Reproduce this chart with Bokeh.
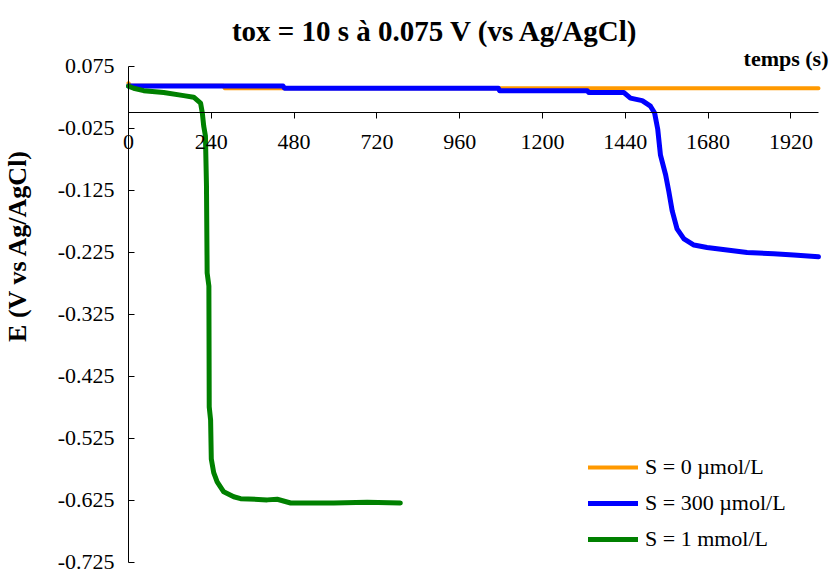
import math
from bokeh.plotting import figure
from bokeh.models import Range1d, LinearAxis, FixedTicker, Label
from bokeh.embed import file_html
from bokeh.resources import INLINE

# ---- data ----
t_orange = [0, 5, 275, 279, 2000]
e_orange = [0.048, 0.044, 0.044, 0.040, 0.040]

t_blue = [0, 448, 452, 1072, 1076, 1330, 1334, 1436, 1455, 1489, 1513, 1525, 1534,
          1542, 1557, 1566, 1576, 1590, 1610, 1639, 1677, 1735, 1793, 1870, 1928, 2000]
e_blue = [0.0434, 0.0434, 0.040, 0.040, 0.036, 0.036, 0.033, 0.033, 0.024, 0.020, 0.011,
          0.000, -0.026, -0.068, -0.100, -0.126, -0.158, -0.187, -0.203, -0.213, -0.217,
          -0.221, -0.225, -0.227, -0.229, -0.232]

t_green = [0, 15, 44, 102, 160, 189, 209, 214, 218, 223, 226, 228, 233, 234, 238, 240,
           247, 257, 276, 305, 325, 402, 431, 470, 595, 692, 788]
e_green = [0.0434, 0.040, 0.036, 0.033, 0.028, 0.0255, 0.016, 0.000, -0.021, -0.037,
           -0.116, -0.258, -0.279, -0.474, -0.495, -0.558, -0.580, -0.595, -0.611, -0.619,
           -0.622, -0.624, -0.623, -0.629, -0.629, -0.628, -0.629]

series_labels = ["S = 0 \u00b5mol/L", "S = 300 \u00b5mol/L", "S = 1 mmol/L"]
series_colors = ["#FF9900", "#0000FF", "#008000"]

x_ticks = [0, 240, 480, 720, 960, 1200, 1440, 1680, 1920]
y_ticks = [0.075, -0.025, -0.125, -0.225, -0.325, -0.425, -0.525, -0.625, -0.725]
y_tick_labels = ["0.075", "-0.025", "-0.125", "-0.225", "-0.325", "-0.425", "-0.525",
                 "-0.625", "-0.725"]

title_text = "tox = 10 s \u00e0 0.075 V (vs Ag/AgCl)"
x_label_text = "temps (s)"
y_label_text = "E (V vs Ag/AgCl)"

FONT = "Liberation Serif"

p = figure(width=835, height=578, output_backend="svg", toolbar_location=None,
           x_range=Range1d(-371.0, 2049.3), y_range=Range1d(-0.75081, 0.18145),
           x_axis_location=None, y_axis_location=None, title=None)
p.min_border = 0
p.outline_line_color = None
p.xgrid.visible = False
p.ygrid.visible = False
p.background_fill_color = "white"
p.border_fill_color = "white"

# y axis at t = 0
ya = LinearAxis(fixed_location=0, ticker=FixedTicker(ticks=y_ticks),
                bounds=(-0.725, 0.075))
ya.major_label_overrides = {v: s for v, s in zip(y_ticks, y_tick_labels)}
ya.major_tick_in = 6
ya.major_tick_out = 0
ya.minor_tick_in = 0
ya.minor_tick_out = 0
ya.major_label_standoff = 14
ya.major_label_text_font = FONT
ya.major_label_text_font_size = "22px"
ya.major_label_text_color = "black"
ya.axis_line_color = "black"
ya.major_tick_line_color = "black"
p.add_layout(ya, "left")

# x axis crossing at E = 0
xa = LinearAxis(fixed_location=0, ticker=FixedTicker(ticks=x_ticks), bounds=(0, 2000))
xa.major_tick_in = 0
xa.major_tick_out = 6
xa.minor_tick_in = 0
xa.minor_tick_out = 0
xa.major_label_standoff = 16
xa.major_label_text_font = FONT
xa.major_label_text_font_size = "22px"
xa.major_label_text_color = "black"
xa.axis_line_color = "black"
xa.major_tick_line_color = "black"
p.add_layout(xa, "below")

p.line(t_orange, e_orange, line_color=series_colors[0], line_width=4,
       legend_label=series_labels[0], line_cap="round", line_join="round")
p.line(t_blue, e_blue, line_color=series_colors[1], line_width=5,
       legend_label=series_labels[1], line_cap="round", line_join="round")
p.line(t_green, e_green, line_color=series_colors[2], line_width=5,
       legend_label=series_labels[2], line_cap="round", line_join="round")

lg = p.legend[0]
lg.location = (588, 26)
lg.border_line_color = None
lg.background_fill_alpha = 0
lg.padding = 0
lg.margin = 0
lg.spacing = 10
lg.glyph_width = 50
lg.glyph_height = 24
lg.label_height = 24
lg.label_standoff = 7
lg.label_text_font = FONT
lg.label_text_font_size = "22px"
lg.label_text_color = "black"

p.add_layout(Label(x=889.9, y=0.13306, text=title_text, text_font=FONT,
                   text_font_size="29px", text_font_style="bold",
                   text_align="center", text_baseline="middle", text_color="black"))
p.add_layout(Label(x=2029.0, y=0.08790, text=x_label_text, text_font=FONT,
                   text_font_size="22px", text_font_style="bold",
                   text_align="right", text_baseline="middle", text_color="black"))
p.add_layout(Label(x=-321.7, y=-0.21371, text=y_label_text, text_font=FONT,
                   text_font_size="26px", text_font_style="bold", angle=math.pi / 2,
                   text_align="center", text_baseline="middle", text_color="black"))

open("out.html", "w").write(file_html(p, INLINE))
